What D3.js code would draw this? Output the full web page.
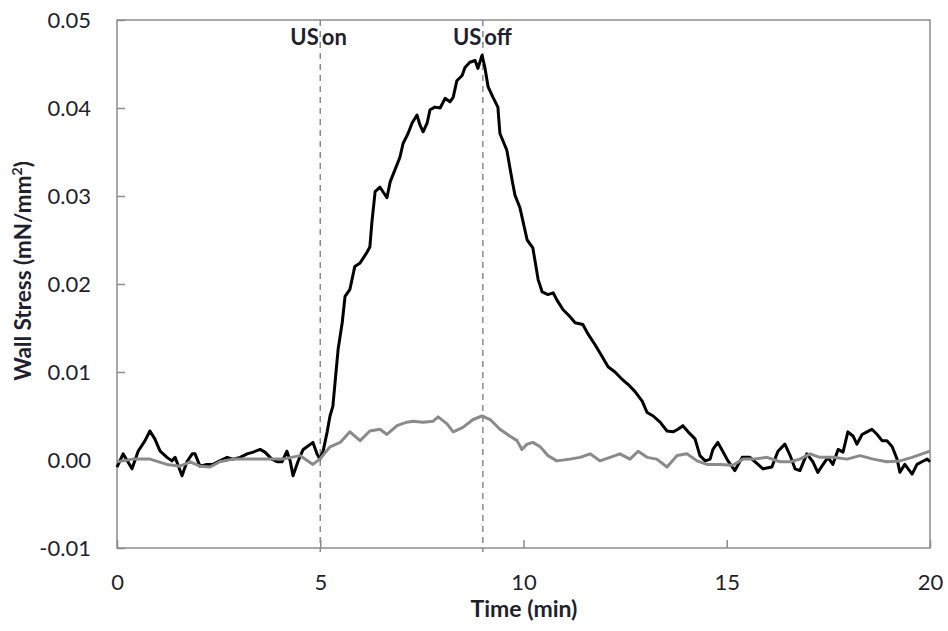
<!DOCTYPE html>
<html>
<head>
<meta charset="utf-8">
<script src="https://cdn.jsdelivr.net/npm/d3@7"></script>
<style>
  html, body { margin: 0; padding: 0; background: #fff; }
  svg { display: block; }
</style>
</head>
<body>
<svg id="chart" width="948" height="631"></svg>
<script>
// ---- data ----
const blackTime = [0.00,0.15,0.37,0.52,0.69,0.81,0.93,1.06,1.23,1.35,1.43,1.60,1.72,1.85,1.92,2.04,2.21,2.36,2.53,2.71,2.85,3.03,3.20,3.35,3.52,3.64,3.81,3.94,4.06,4.18,4.26,4.33,4.45,4.58,4.70,4.82,4.92,4.99,5.07,5.17,5.24,5.31,5.44,5.54,5.61,5.73,5.85,5.98,6.15,6.22,6.27,6.35,6.47,6.64,6.72,6.84,6.96,7.04,7.16,7.26,7.38,7.45,7.53,7.63,7.70,7.82,7.95,8.07,8.19,8.27,8.36,8.49,8.56,8.68,8.81,8.88,8.98,9.05,9.13,9.25,9.37,9.42,9.59,9.72,9.79,9.91,10.09,10.23,10.36,10.46,10.60,10.73,10.82,10.97,11.14,11.27,11.46,11.59,11.76,11.93,12.08,12.25,12.42,12.57,12.74,12.92,13.04,13.19,13.36,13.53,13.68,13.80,13.92,14.05,14.22,14.34,14.47,14.59,14.66,14.78,14.91,15.03,15.20,15.38,15.57,15.77,15.89,16.11,16.26,16.43,16.56,16.68,16.80,16.97,17.12,17.24,17.37,17.49,17.61,17.74,17.86,17.98,18.11,18.20,18.33,18.45,18.57,18.70,18.82,18.94,19.07,19.19,19.26,19.38,19.56,19.68,19.80,19.93,20.00];
const blackStress = [-0.0008,0.0007,-0.0010,0.0010,0.0022,0.0033,0.0024,0.0010,0.0003,-0.0001,0.0003,-0.0018,-0.0002,0.0007,0.0007,-0.0007,-0.0005,-0.0005,-0.0001,0.0003,0.0001,0.0003,0.0007,0.0009,0.0012,0.0009,0.0001,-0.0002,-0.0002,0.0010,-0.0001,-0.0018,-0.0002,0.0012,0.0016,0.0020,0.0007,0.0001,0.0010,0.0032,0.0050,0.0061,0.0126,0.0156,0.0186,0.0194,0.0220,0.0224,0.0236,0.0242,0.0270,0.0305,0.0310,0.0298,0.0316,0.0330,0.0344,0.0360,0.0371,0.0383,0.0392,0.0381,0.0373,0.0383,0.0398,0.0401,0.0400,0.0411,0.0407,0.0412,0.0431,0.0437,0.0446,0.0452,0.0454,0.0445,0.0460,0.0446,0.0424,0.0412,0.0401,0.0371,0.0352,0.0318,0.0301,0.0287,0.0250,0.0241,0.0205,0.0191,0.0188,0.0190,0.0182,0.0171,0.0163,0.0156,0.0154,0.0143,0.0131,0.0118,0.0106,0.0100,0.0092,0.0086,0.0078,0.0067,0.0054,0.0050,0.0043,0.0033,0.0032,0.0035,0.0039,0.0032,0.0024,0.0005,-0.0001,0.0001,0.0012,0.0020,0.0009,-0.0001,-0.0012,0.0003,0.0003,-0.0005,-0.0010,-0.0008,0.0010,0.0018,0.0005,-0.0010,-0.0012,0.0007,-0.0002,-0.0014,-0.0005,0.0003,-0.0005,0.0012,0.0009,0.0032,0.0027,0.0018,0.0029,0.0032,0.0035,0.0029,0.0022,0.0022,0.0015,0.0001,-0.0014,-0.0005,-0.0016,-0.0005,-0.0002,0.0001,-0.0002];

const grayTime = [0.00,0.39,0.81,1.23,1.55,1.80,2.04,2.29,2.53,2.85,3.27,3.69,4.08,4.50,4.82,4.99,5.24,5.49,5.73,5.98,6.22,6.47,6.64,6.89,7.13,7.28,7.53,7.77,7.90,8.12,8.27,8.51,8.76,8.98,9.18,9.42,9.67,9.84,9.96,10.09,10.23,10.41,10.60,10.82,11.14,11.39,11.64,11.88,12.13,12.37,12.62,12.82,13.04,13.28,13.53,13.78,14.02,14.27,14.51,14.83,15.15,15.40,15.65,15.99,16.31,16.56,16.80,17.05,17.29,17.61,17.96,18.28,18.60,18.94,19.26,19.56,19.93,20.00];
const grayStress = [-0.0002,0.0001,0.0001,-0.0005,-0.0007,-0.0002,-0.0007,-0.0008,-0.0002,0.0001,0.0001,0.0001,0.0001,0.0005,-0.0005,0.0001,0.0015,0.0020,0.0032,0.0022,0.0033,0.0035,0.0029,0.0039,0.0043,0.0044,0.0043,0.0044,0.0049,0.0041,0.0032,0.0037,0.0046,0.0050,0.0046,0.0035,0.0027,0.0022,0.0012,0.0018,0.0020,0.0015,0.0005,-0.0001,0.0001,0.0003,0.0007,-0.0001,0.0003,0.0007,0.0001,0.0010,0.0003,0.0001,-0.0008,0.0005,0.0007,-0.0001,-0.0005,-0.0005,-0.0006,0.0001,0.0001,0.0003,-0.0002,-0.0002,0.0001,0.0007,0.0003,0.0003,0.0001,0.0005,0.0001,-0.0002,-0.0001,0.0003,0.0009,0.0010];

const xTicks = [0, 5, 10, 15, 20];
const yTicks = [-0.01, 0.00, 0.01, 0.02, 0.03, 0.04, 0.05];
const markerTimes = [5, 9];
const markerWords = ["on", "off"];
const xTitle = "Time (min)";

// ---- layout ----
const svg = d3.select("#chart");
const pLeft = 117, pTop = 20, pRight = 930, pBottom = 548;
const x = d3.scaleLinear().domain([0, 20]).range([pLeft, pRight]);
const y = d3.scaleLinear().domain([-0.01, 0.05]).range([pBottom, pTop]);
const axisColor = "#8c8c8c";
const textColor = "#1f1f2e";
const font = "Lato, 'Open Sans', sans-serif";
const fmtY = v => d3.format(".2f")(v).replace("\u2212", "-");

// plot frame
svg.append("rect")
  .attr("x", pLeft).attr("y", pTop)
  .attr("width", pRight - pLeft).attr("height", pBottom - pTop)
  .attr("fill", "none").attr("stroke", axisColor).attr("stroke-width", 1.5);

// y axis (ticks inside)
const yAxis = d3.axisLeft(y).tickValues(yTicks).tickSize(-8).tickPadding(26)
  .tickFormat(fmtY);
const gy = svg.append("g").attr("transform", `translate(${pLeft},0)`).call(yAxis);
gy.select(".domain").remove();
gy.selectAll(".tick line").attr("stroke", axisColor).attr("stroke-width", 1.5);
gy.selectAll(".tick text").attr("font-family", font).attr("font-size", 22)
  .attr("fill", textColor).attr("x", -26).attr("dy", "0.36em");

// x axis (ticks inside)
const xAxis = d3.axisBottom(x).tickValues(xTicks).tickSize(-8).tickFormat(d3.format("d"));
const gx = svg.append("g").attr("transform", `translate(0,${pBottom})`).call(xAxis);
gx.select(".domain").remove();
gx.selectAll(".tick line").attr("stroke", axisColor).attr("stroke-width", 1.5);
gx.selectAll(".tick text").attr("font-family", font).attr("font-size", 22)
  .attr("fill", textColor).attr("y", 34).attr("dy", "0.36em");

// axis titles
svg.append("text")
  .attr("x", 524).attr("y", 617)
  .attr("text-anchor", "middle").attr("font-family", font)
  .attr("font-weight", "bold").attr("font-size", 23).attr("fill", textColor)
  .text(xTitle);

const yt = svg.append("text")
  .attr("transform", `translate(31,271) rotate(-90)`)
  .attr("text-anchor", "middle").attr("font-family", font)
  .attr("font-weight", "bold").attr("font-size", 22.5).attr("fill", textColor);
yt.append("tspan").text("Wall Stress (mN/mm");
yt.append("tspan").attr("font-size", 14).attr("dy", -9).text("2");
yt.append("tspan").attr("dy", 9).text(")");

// marker lines
svg.selectAll("line.marker").data(markerTimes).enter().append("line")
  .attr("class", "marker")
  .attr("x1", d => x(d)).attr("x2", d => x(d))
  .attr("y1", pTop).attr("y2", pBottom + 4)
  .attr("stroke", "#8a8a8a").attr("stroke-width", 1.5)
  .attr("stroke-dasharray", "6,5");

markerTimes.forEach((t, i) => {
  svg.append("text").attr("x", x(t) - 1.5).attr("y", 45)
    .attr("text-anchor", "end").attr("font-family", font)
    .attr("font-weight", "bold").attr("font-size", 22).attr("fill", textColor)
    .text("US");
  svg.append("text").attr("x", x(t) + 1.5).attr("y", 45)
    .attr("text-anchor", "start").attr("font-family", font)
    .attr("font-weight", "bold").attr("font-size", 22).attr("fill", textColor)
    .text(markerWords[i]);
});

// series
const line = d3.line().x(d => x(d[0])).y(d => y(d[1]));
const blackData = blackTime.map((t, i) => [t, blackStress[i]]);
const grayData = grayTime.map((t, i) => [t, grayStress[i]]);

svg.append("path").datum(blackData).attr("d", line)
  .attr("fill", "none").attr("stroke", "#000").attr("stroke-width", 3)
  .attr("stroke-linejoin", "round");
svg.append("path").datum(grayData).attr("d", line)
  .attr("fill", "none").attr("stroke", "#8a8a8a").attr("stroke-width", 3)
  .attr("stroke-linejoin", "round");
</script>
</body>
</html>
